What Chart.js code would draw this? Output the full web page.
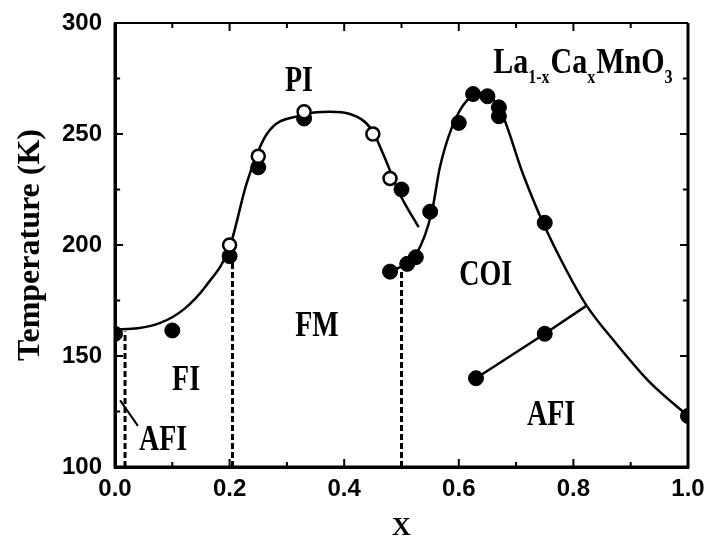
<!DOCTYPE html>
<html>
<head>
<meta charset="utf-8">
<script src="https://cdn.jsdelivr.net/npm/chart.js@4.4.1/dist/chart.umd.min.js"></script>
<style>
  html, body { margin: 0; padding: 0; background: #fff; }
  #wrap { width: 710px; height: 544px; }
</style>
</head>
<body>
<div id="wrap"><canvas id="phase"></canvas></div>
<script>
// La(1-x)Ca(x)MnO3 phase diagram: transition temperature against Ca content x
const xTicks = [0, 0.2, 0.4, 0.6, 0.8, 1.0];
const xMinor = [0.1, 0.3, 0.5, 0.7, 0.9];
const yTicks = [100, 150, 200, 250, 300];
const yMinor = [125, 175, 225, 275];

// measured transitions (filled / open symbols)
const filledX = [0, 0.1, 0.2, 0.25, 0.33, 0.48, 0.5, 0.51, 0.525, 0.55, 0.6, 0.625, 0.65, 0.67, 0.67, 0.75, 0.63, 0.75, 1.0];
const filledT = [160, 161.5, 195, 235, 257, 188, 225, 191.5, 194.5, 215, 255, 268, 267, 262, 258, 210, 140, 160, 123];
const openX = [0.2, 0.25, 0.33, 0.45, 0.48];
const openT = [200, 240, 260, 250, 230];

// PI / ferro boundary
const tcX = [0, 0.04, 0.08, 0.12, 0.16, 0.2, 0.23, 0.265, 0.326, 0.375, 0.41, 0.448, 0.468, 0.497, 0.53];
const tcT = [162, 162.5, 165, 171, 182, 199, 228, 250, 258.5, 260, 259, 252, 241, 223, 208];
// charge ordering boundary
const coX = [0.48, 0.526, 0.553, 0.567, 0.588, 0.614, 0.643, 0.672, 0.712, 0.747, 0.788, 0.823, 0.875, 0.934, 1.0];
const coT = [188, 196, 215, 235, 253, 265, 268, 261, 232, 210, 188.5, 172.7, 155.5, 138, 123];
// AFI line inside the COI region
const afX = [0.63, 0.75, 0.823];
const afT = [140, 160, 172.7];
// short pointer next to the small AFI pocket
const ptrX = [0.009, 0.04];
const ptrT = [130, 118.5];
// dashed phase borders, from the axis up to the boundary
const dashX = [0.0175, 0.205, 0.5];
const dashTop = [161, 195, 189];

const X0 = 0, X1 = 1, T0 = 100, T1 = 300;

const pts = (xs, ys) => xs.map((x, i) => ({ x: x, y: ys[i] }));

const curve = (xs, ys) => ({
  data: pts(xs, ys), showLine: true, pointRadius: 0,
  borderColor: '#000', borderWidth: 2.5, cubicInterpolationMode: 'monotone', order: 3
});

// inward tick marks as short segments, broken apart by gap points
const tickSegs = [];
const seg = (xa, ya, xb, yb) => {
  tickSegs.push({ x: xa, y: ya }, { x: xb, y: yb }, { x: xb, y: null });
};
const tx = (v, len) => { seg(v, T0, v, T0 + len); seg(v, T1, v, T1 - len); };
const ty = (v, len) => { seg(X0, v, X0 + len, v); seg(X1, v, X1 - len, v); };
xTicks.forEach(v => tx(v, 3.6));
xMinor.forEach(v => tx(v, 2.3));
yTicks.forEach(v => ty(v, 0.014));
yMinor.forEach(v => ty(v, 0.009));

const datasets = [
  { data: pts(openX, openT), pointRadius: 6.5, pointBorderWidth: 2.5,
    pointBackgroundColor: '#fff', pointBorderColor: '#000', order: 0 },
  { data: pts(filledX, filledT), pointRadius: 7.5, pointBorderWidth: 1,
    pointBackgroundColor: '#000', pointBorderColor: '#000', order: 1 },
  curve(tcX, tcT),
  curve(coX, coT),
  { data: pts(afX, afT), showLine: true, pointRadius: 0, borderColor: '#000', borderWidth: 2.5, order: 3 },
  { data: pts(ptrX, ptrT), showLine: true, pointRadius: 0, borderColor: '#000', borderWidth: 2, order: 3 },
  // plot frame
  { data: [{ x: X0, y: T1 }, { x: X0, y: T0 }, { x: X1, y: T0 }, { x: X1, y: T1 }],
    showLine: true, pointRadius: 0, borderColor: '#000', borderWidth: 3, clip: false, order: 2 },
  { data: [{ x: X0, y: T1 }, { x: X1, y: T1 }],
    showLine: true, pointRadius: 0, borderColor: '#000', borderWidth: 2, clip: false, order: 2 },
  { data: tickSegs, showLine: true, spanGaps: false, pointRadius: 0,
    borderColor: '#000', borderWidth: 2, borderCapStyle: 'butt', order: 2 }
];
dashX.forEach((x, i) => {
  datasets.push({
    data: [{ x: x, y: T0 }, { x: x, y: dashTop[i] }], showLine: true, pointRadius: 0,
    borderColor: '#000', borderWidth: 3, borderDash: [6, 3], order: 4
  });
});

// region names, placed in data coordinates
const notes = [
  { text: 'PI', x: 0.321, y: 273.4 },
  { text: 'FM', x: 0.3525, y: 163.2 },
  { text: 'FI', x: 0.124, y: 138.8 },
  { text: 'AFI', x: 0.084, y: 111.7 },
  { text: 'COI', x: 0.647, y: 186.2 },
  { text: 'AFI', x: 0.761, y: 123 }
];

function tallText(ctx, text, x, y, size, sy) {
  ctx.save();
  ctx.translate(x, y);
  ctx.scale(1, sy);
  ctx.font = 'bold ' + size + 'px "Liberation Serif"';
  ctx.fillText(text, 0, 0);
  ctx.restore();
}

const decor = {
  id: 'decor',
  afterDraw(chart) {
    const { ctx, scales: { x, y } } = chart;
    ctx.save();
    ctx.fillStyle = '#000';
    ctx.textAlign = 'center';
    ctx.textBaseline = 'middle';
    notes.forEach(n => tallText(ctx, n.text, x.getPixelForValue(n.x), y.getPixelForValue(n.y), 28, 1.25));

    // compound formula with subscripts
    ctx.textAlign = 'left';
    ctx.textBaseline = 'alphabetic';
    let px = x.getPixelForValue(0.66);
    const base = y.getPixelForValue(277.4);
    const parts = [['La', 0], ['1-x', 1], ['Ca', 0], ['x', 1], ['MnO', 0], ['3', 1]];
    parts.forEach(([t, sub]) => {
      const size = sub ? 16 : 30;
      ctx.font = 'bold ' + size + 'px "Liberation Serif"';
      const w = ctx.measureText(t).width;
      tallText(ctx, t, px, base + (sub ? 10 : 0), size, 1.2);
      px += w + (sub ? 1 : 0);
    });
    ctx.restore();
  }
};

const axisFont = { family: 'Liberation Sans', weight: 'bold', size: 24 };

new Chart(document.getElementById('phase'), {
  type: 'scatter',
  data: { datasets: datasets },
  options: {
    responsive: true,
    maintainAspectRatio: false,
    animation: false,
    layout: { padding: { left: 0, right: 22, top: 23, bottom: 0 } },
    plugins: { legend: { display: false }, tooltip: { enabled: false } },
    scales: {
      x: {
        type: 'linear', min: X0, max: X1,
        afterBuildTicks: s => { s.ticks = xTicks.map(v => ({ value: v })); },
        afterFit: s => { s.height = 77; s.paddingLeft = 0; s.paddingRight = 0; },
        grid: { display: false, drawTicks: false },
        border: { display: true, color: '#000', width: 3 },
        ticks: { padding: 8, color: '#000', font: axisFont, callback: v => v.toFixed(1) },
        title: {
          display: true, text: 'X', color: '#000', padding: { top: 0, bottom: 0 },
          font: { family: 'Liberation Serif', weight: 'bold', size: 26 }
        }
      },
      y: {
        type: 'linear', min: T0, max: T1,
        afterBuildTicks: s => { s.ticks = yTicks.map(v => ({ value: v })); },
        afterFit: s => { s.width = 115; s.paddingTop = 0; s.paddingBottom = 0; },
        grid: { display: false, drawTicks: false },
        border: { display: true, color: '#000', width: 3 },
        ticks: { padding: 13, color: '#000', font: axisFont },
        title: {
          display: true, text: 'Temperature (K)', color: '#000', padding: { top: 12, bottom: 0 },
          font: { family: 'Liberation Serif', weight: 'bold', size: 32 }
        }
      }
    }
  },
  plugins: [decor]
});
</script>
</body>
</html>
